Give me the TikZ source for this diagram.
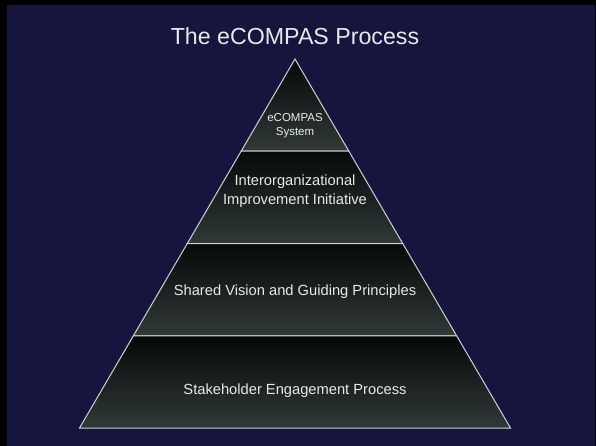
\documentclass[tikz,border=0pt]{standalone}
\usepackage{fontspec}
\setmainfont{Liberation Sans}
\usetikzlibrary{positioning}
\definecolor{slidenavy}{RGB}{22,21,62}
\definecolor{tiertop}{RGB}{6,9,9}
\definecolor{tiermid}{RGB}{38,46,45}
\definecolor{tierbot}{RGB}{48,58,56}
\definecolor{textgray}{RGB}{232,232,232}
\tikzset{tier/.style={draw=white!82!black, line width=1pt,
    top color=tiertop, middle color=tiermid, bottom color=tierbot},
  tiertext/.style={text=textgray, align=center,
    font=\fontsize{14.7}{18.5}\selectfont}}

\begin{document}
\begin{tikzpicture}[x=1pt,y=-1pt]

  % slide background
  \fill [black] (0,0) rectangle (596,446);
  \fill [slidenavy] (7,5) rectangle (595,446);
  \useasboundingbox (0,0) rectangle (596,446);

  \node [text=textgray, font=\fontsize{23.2}{28}\selectfont] (title) at (295,36)
    {The eCOMPAS Process};

  % the pyramid, top to bottom
  \shade [tier] (295,59) -- (348.9,151.25) -- (241.1,151.25) -- cycle;
  \shade [tier] (241.1,151.25) -- (348.9,151.25) -- (402.7,243.5) -- (187.3,243.5) -- cycle;
  \shade [tier] (187.3,243.5) -- (402.7,243.5) -- (456.6,335.75) -- (133.4,335.75) -- cycle;
  \shade [tier] (133.4,335.75) -- (456.6,335.75) -- (510.5,428) -- (79.5,428) -- cycle;

  \node [tiertext, font=\fontsize{11.5}{14}\selectfont] (system) at (295,126)
    {eCOMPAS\\System};
  \node [tiertext] (initiative) at (295,191) {Interorganizational\\Improvement Initiative};
  \node [tiertext] (vision) at (295,292) {Shared Vision and Guiding Principles};
  \node [tiertext] (engagement) at (295,391) {Stakeholder Engagement Process};

\end{tikzpicture}
\end{document}
